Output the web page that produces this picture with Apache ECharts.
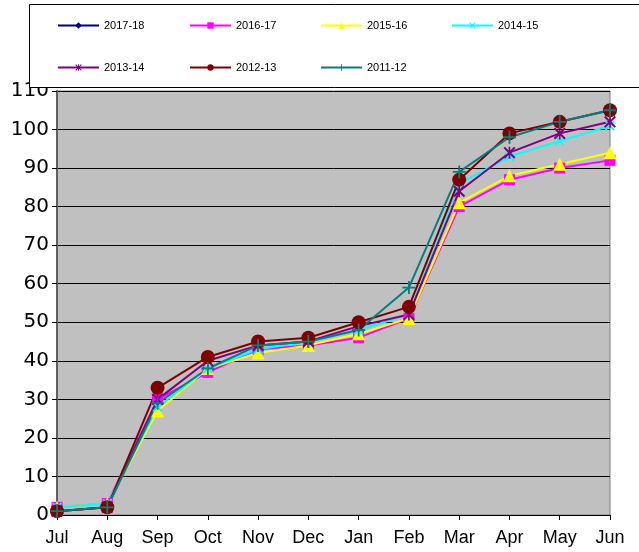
<!DOCTYPE html>
<html>
<head>
<meta charset="utf-8">
<script src="https://cdn.jsdelivr.net/npm/echarts@6/dist/echarts.min.js"></script>
<style>html,body{margin:0;padding:0;background:#fff;}#c{width:639px;height:552px;}</style>
</head>
<body>
<div id="c"></div>
<script>
const months = ['Jul','Aug','Sep','Oct','Nov','Dec','Jan','Feb','Mar','Apr','May','Jun'];
const yTicks = [0,10,20,30,40,50,60,70,80,90,100,110];
const seriesNames = ['2017-18','2016-17','2015-16','2014-15','2013-14','2012-13','2011-12'];
const s2017_18 = [null,null,null,null,null,null,null,null,null,null,null,null];
const s2016_17 = [2,3,30,37,43,44,46,51,80,87,90,92];
const s2015_16 = [2,3,27,38,42,44,47,51,81,88,91,94];
const s2014_15 = [2,3,28,38,43,45,48,52,86,93,97,101];
const s2013_14 = [1,2,30,40,44,45,49,52,84,94,99,102];
const s2012_13 = [1,2,33,41,45,46,50,54,87,99,102,105];
const s2011_12 = [1,2,29,38,44,45,48,59,89,98,102,105];

const colors = ['#000080','#FF00FF','#FFFF00','#00FFFF','#800080','#800000','#008080'];
const X_PATH = 'path://M0,1.2L1.2,0L5,3.8L8.8,0L10,1.2L6.2,5L10,8.8L8.8,10L5,6.2L1.2,10L0,8.8L3.8,5Z';
const AST_PATH = 'path://M0,1.2L1.2,0L5,3.8L8.8,0L10,1.2L6.2,5L10,8.8L8.8,10L5,6.2L1.2,10L0,8.8L3.8,5ZM4.3,0H5.7V10H4.3Z';
const PLUS_PATH = 'path://M4.3,0H5.7V4.3H10V5.7H5.7V10H4.3V5.7H0V4.3H4.3Z';
const symbols = ['diamond','rect','triangle',X_PATH,AST_PATH,'circle',PLUS_PATH];
const sizes = [10,11,13,10,12,14,13];
const dataArr = [s2017_18,s2016_17,s2015_16,s2014_15,s2013_14,s2012_13,s2011_12];

const series = seriesNames.map((n,i)=>({
  name:n, type:'line', data:dataArr[i],
  symbol:symbols[i], symbolSize:sizes[i],
  showAllSymbol:true,
  lineStyle:{color:colors[i], width:2},
  itemStyle:{color:colors[i]},
  emphasis:{disabled:true},
  animation:false
}));

const legendPos = [[57,20],[189,20],[320,20],[451,20],[57,62],[189,62],[320,62]];
const legends = seriesNames.map((n,i)=>({
  data:[n], left:legendPos[i][0], top:legendPos[i][1], padding:0,
  itemWidth:41, itemHeight:8, itemGap:0, z:200,
  textStyle:{fontFamily:'Liberation Sans, Arial', fontSize:11, color:'#000'},
  selectedMode:false
}));

const chart = echarts.init(document.getElementById('c'));
chart.setOption({
  animation:false,
  graphic:[{type:'rect', z:150, shape:{x:29.5,y:4.5,width:640,height:83}, style:{fill:'#fff', stroke:'#000', lineWidth:1}}],
  legend:legends,
  grid:{left:57,right:29,top:91,bottom:37,show:true,backgroundColor:'#C0C0C0',borderColor:'#808080',borderWidth:1},
  xAxis:{type:'category',data:months,boundaryGap:false,
    axisLine:{lineStyle:{color:'#000',width:1}},
    axisTick:{show:true,length:5,alignWithLabel:true,lineStyle:{color:'#000'}},
    axisLabel:{color:'#000',fontSize:18,fontFamily:'Liberation Sans, Arial',margin:14,interval:0},
    splitLine:{show:false}},
  yAxis:{type:'value',min:0,max:110,interval:10,
    axisLine:{show:true,lineStyle:{color:'#606060',width:2}},
    axisTick:{show:true,length:5,lineStyle:{color:'#000'}},
    axisLabel:{color:'#000',fontSize:20,fontFamily:'DejaVu Sans',margin:8,
      formatter:v=>yTicks.includes(v)?String(v):''},
    splitLine:{show:true,lineStyle:{color:'#000',width:1}}},
  series:series
});
</script>
</body>
</html>
